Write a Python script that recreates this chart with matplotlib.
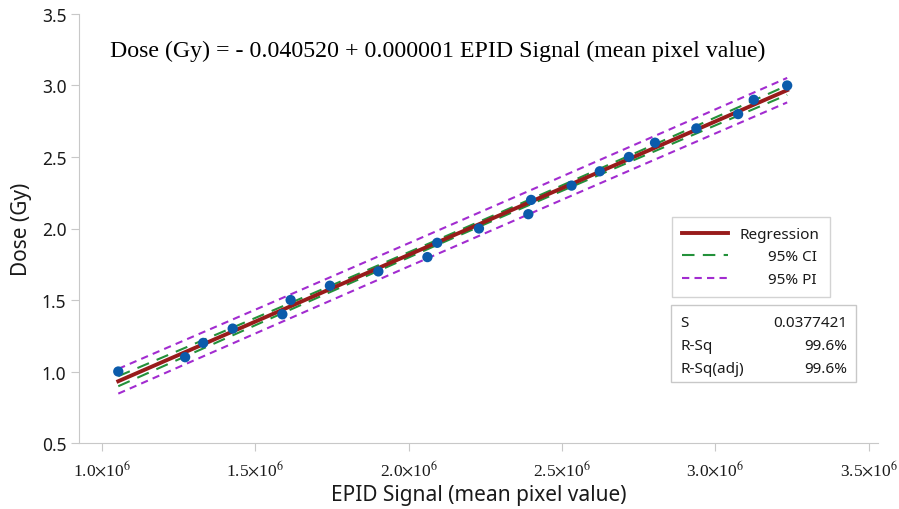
import numpy as np
import matplotlib
matplotlib.use("Agg")
import matplotlib.pyplot as plt
from matplotlib.lines import Line2D
from matplotlib.patches import Rectangle
from matplotlib.ticker import FuncFormatter

plt.rcParams['font.family'] = ['Noto Sans', 'DejaVu Sans']
plt.rcParams['mathtext.fontset'] = 'stix'

# EPID signal (mean pixel value) and delivered dose
epid = [1.053e6, 1.271e6, 1.330e6, 1.426e6, 1.588e6, 1.615e6, 1.743e6,
        1.901e6, 2.061e6, 2.093e6, 2.229e6, 2.390e6, 2.399e6, 2.531e6,
        2.623e6, 2.718e6, 2.803e6, 2.938e6, 3.074e6, 3.125e6, 3.234e6]
dose = [1.0, 1.1, 1.2, 1.3, 1.4, 1.5, 1.6, 1.7, 1.8, 1.9, 2.0,
        2.1, 2.2, 2.3, 2.4, 2.5, 2.6, 2.7, 2.8, 2.9, 3.0]
xticks = [1.0e6, 1.5e6, 2.0e6, 2.5e6, 3.0e6, 3.5e6]
yticks = [0.5, 1.0, 1.5, 2.0, 2.5, 3.0, 3.5]
stats = [("S", "0.0377421"), ("R-Sq", "99.6%"), ("R-Sq(adj)", "99.6%")]

x = np.array(epid)
y = np.array(dose)
n = len(x)

# least squares fit + 95% CI / PI bands
b1, b0 = np.polyfit(x, y, 1)
resid = y - (b0 + b1 * x)
s = np.sqrt(np.sum(resid ** 2) / (n - 2))
t = 2.093  # t(0.975, 19)
xs = np.linspace(x.min(), x.max(), 200)
ys = b0 + b1 * xs
sxx = np.sum((x - x.mean()) ** 2)
ci = t * s * np.sqrt(1 / n + (xs - x.mean()) ** 2 / sxx)
pi = t * s * np.sqrt(1 + 1 / n + (xs - x.mean()) ** 2 / sxx)

fig = plt.figure(figsize=(8.99, 5.10), dpi=100)
ax = fig.add_axes([0.0879, 0.1294, 0.8887, 0.8412])

red = '#981b1b'
green = '#23913a'
purple = '#a22cd0'
blue = '#0b5bab'
txt = '#1a1a1a'

ax.plot(xs, ys + pi, color=purple, lw=1.5, dashes=(3.5, 2.5))
ax.plot(xs, ys - pi, color=purple, lw=1.5, dashes=(3.5, 2.5))
ax.plot(xs, ys + ci, color=green, lw=1.5, dashes=(6, 4))
ax.plot(xs, ys - ci, color=green, lw=1.5, dashes=(6, 4))
ax.plot(xs, ys, color=red, lw=2.8)
ax.scatter(x, y, s=55, color=blue, zorder=5, edgecolors='none')

ax.set_xlim(0.925e6, 3.53e6)
ax.set_ylim(0.5, 3.5)
ax.set_xticks(xticks)
ax.set_yticks(yticks)
ax.xaxis.set_major_formatter(FuncFormatter(
    lambda v, p: f"{v / 1e6:.1f}" + r"$\times$10$^{6}$"))
ax.yaxis.set_major_formatter(FuncFormatter(lambda v, p: f"{v:.1f}"))
for lab in ax.get_xticklabels():
    lab.set_family(['Liberation Serif', 'DejaVu Serif'])
ax.tick_params(axis='x', labelsize=12.5, length=6, color='#c8c8c8', pad=6,
               labelcolor=txt)
ax.tick_params(axis='y', labelsize=12.5, length=6, color='#c8c8c8', pad=3,
               labelcolor=txt)

for side in ['top', 'right']:
    ax.spines[side].set_visible(False)
for side in ['left', 'bottom']:
    ax.spines[side].set_color('#c8c8c8')

ax.set_xlabel('EPID Signal (mean pixel value)', fontsize=15, labelpad=3,
              color=txt)
ax.set_ylabel('Dose (Gy)', fontsize=15, labelpad=7, color=txt)

ax.text(0.039, 0.914,
        'Dose (Gy) = - 0.040520 + 0.000001 EPID Signal (mean pixel value)',
        transform=ax.transAxes, fontsize=17.2, va='center', ha='left',
        family=['Liberation Serif', 'DejaVu Serif'], color='black')

handles = [Line2D([], [], color=red, lw=2.8),
           Line2D([], [], color=green, lw=1.5, dashes=(6, 4)),
           Line2D([], [], color=purple, lw=1.5, dashes=(3.5, 2.5))]
leg = ax.legend(handles, ['Regression', '       95% CI', '       95% PI'],
                loc='upper left', bbox_to_anchor=(0.742, 0.527),
                borderaxespad=0, fontsize=11, frameon=True, fancybox=False,
                edgecolor='#c8c8c8', handlelength=3.0, handletextpad=0.8,
                labelspacing=0.5, borderpad=0.65, labelcolor=txt)
leg.get_frame().set_linewidth(1.0)

# summary box
bx0, bx1 = (671 - 79) / 799, (856 - 79) / 799
by0, by1 = (444 - 383) / 429, (444 - 306) / 429
ax.add_patch(Rectangle((bx0, by0), bx1 - bx0, by1 - by0, transform=ax.transAxes,
                       fill=False, edgecolor='#c8c8c8', lw=1.0))
for i, (k, v) in enumerate(stats):
    yy = (444 - (323 + 23 * i)) / 429
    ax.text(bx0 + 0.012, yy, k, transform=ax.transAxes, fontsize=11,
            va='center', ha='left', color=txt)
    ax.text(bx1 - 0.011, yy, v, transform=ax.transAxes, fontsize=11,
            va='center', ha='right', color=txt)

fig.savefig('out.png', dpi=100)
